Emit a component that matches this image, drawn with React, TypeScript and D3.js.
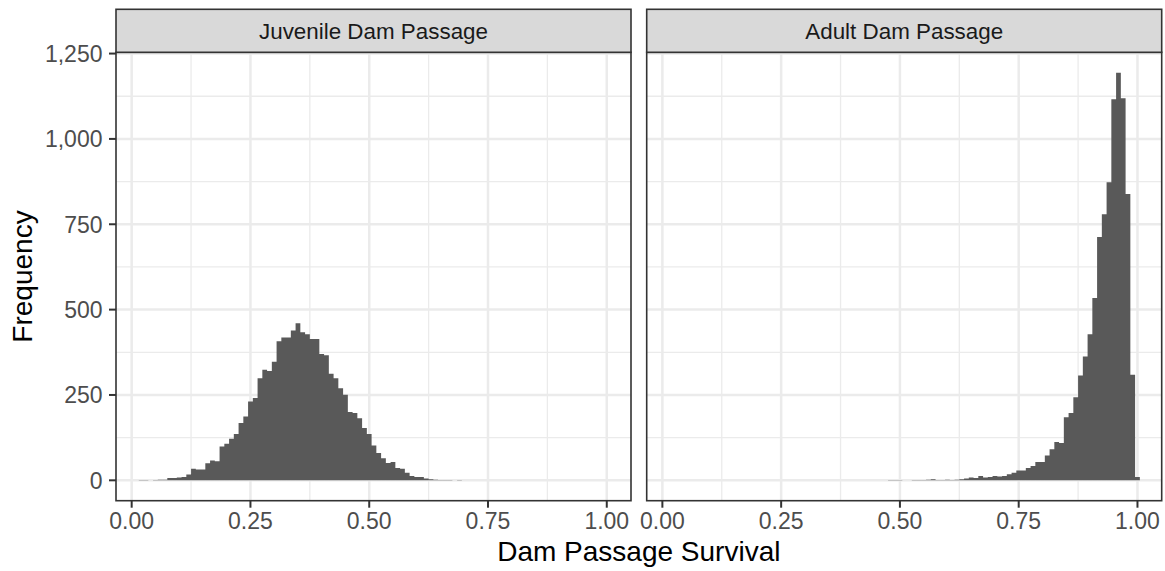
import React from "react";
import * as d3 from "d3";

const panels = ["Juvenile Dam Passage", "Adult Dam Passage"];
const binWidth = 0.01;
const binCenters = d3.range(0, 101).map((k) => +(k * binWidth).toFixed(2));

// counts per bin (bin centers 0.00 .. 1.00)
const juvenileCounts = [
  0, 0, 1, 1, 0, 1, 2, 2, 7, 7,
  8, 10, 17, 34, 32, 32, 50, 58, 56, 99,
  107, 122, 136, 168, 187, 231, 241, 299, 324, 320,
  347, 407, 418, 418, 439, 460, 434, 428, 414, 414,
  370, 366, 312, 299, 270, 251, 200, 197, 182, 153,
  136, 102, 80, 65, 51, 54, 36, 34, 22, 13,
  10, 10, 5, 3, 2, 1, 1, 1, 0, 1,
  0, 0, 0, 0, 0, 0, 0, 0, 0, 0,
  0, 0, 0, 0, 0, 0, 0, 0, 0, 0,
  0, 0, 0, 0, 0, 0, 0, 0, 0, 0,
  0,
];
const adultCounts = [
  0, 0, 0, 0, 0, 0, 0, 0, 0, 0,
  0, 0, 0, 0, 0, 0, 0, 0, 0, 0,
  0, 0, 0, 0, 0, 0, 0, 0, 0, 0,
  0, 0, 0, 0, 0, 0, 0, 0, 0, 0,
  0, 0, 0, 0, 0, 0, 0, 0, 1, 1,
  1, 0, 0, 1, 1, 1, 2, 3, 1, 1,
  2, 1, 2, 3, 5, 8, 7, 13, 8, 10,
  13, 11, 13, 18, 22, 29, 29, 36, 42, 54,
  54, 73, 91, 112, 109, 185, 197, 243, 307, 363,
  428, 534, 713, 779, 873, 1116, 1194, 1119, 839, 309,
  10,
];
const seriesCounts = [juvenileCounts, adultCounts];

const xTicks = [0, 0.25, 0.5, 0.75, 1];
const xMinor = [0.125, 0.375, 0.625, 0.875];
const yTicks = [0, 250, 500, 750, 1000, 1250];
const yMinor = [125, 375, 625, 875, 1125];

const xTitle = "Dam Passage Survival";
const yTitle = "Frequency";

const W = 1165;
const H = 571;
const FONT = "'Liberation Sans', Arial, Helvetica, sans-serif";

export default function App() {
  const panelTop = 52.3;
  const panelBottom = 500.7;
  const stripTop = 9.3;
  const panelLefts = [116, 646.7];
  const panelW = 515;
  const xDomain: [number, number] = [-0.033, 1.051];
  const maxCount = d3.max(seriesCounts.flat()) as number;
  const y = d3
    .scaleLinear()
    .domain([-0.05 * maxCount, maxCount * 1.05])
    .range([panelBottom, panelTop]);
  const fmt = d3.format(",");
  const xFmt = d3.format(".2f");
  const tickLen = 7;
  const tickFont = 23;

  return (
    <div style={{ position: "absolute", left: 0, top: 0 }}>
      <svg width={W} height={H} style={{ display: "block", background: "#fff" }} fontFamily={FONT}>
        <rect x={0} y={0} width={W} height={H} fill="#fff" />
        {panels.map((name, pi) => {
          const x0 = panelLefts[pi];
          const x = d3.scaleLinear().domain(xDomain).range([x0, x0 + panelW]);
          const counts = seriesCounts[pi];
          const p = d3.path();
          binCenters.forEach((c, i) => {
            if (counts[i] > 0) {
              const xa = x(c - binWidth / 2);
              const xb = x(c + binWidth / 2);
              p.rect(xa, y(counts[i]), xb - xa, y(0) - y(counts[i]));
            }
          });
          return (
            <g key={name}>
              <rect x={x0} y={panelTop} width={panelW} height={panelBottom - panelTop} fill="#fff" />
              {yMinor.map((v) => (
                <line key={"ym" + v} x1={x0} x2={x0 + panelW} y1={y(v)} y2={y(v)} stroke="#EBEBEB" strokeWidth={1.3} />
              ))}
              {xMinor.map((v) => (
                <line key={"xm" + v} x1={x(v)} x2={x(v)} y1={panelTop} y2={panelBottom} stroke="#EBEBEB" strokeWidth={1.3} />
              ))}
              {yTicks.map((v) => (
                <line key={"yM" + v} x1={x0} x2={x0 + panelW} y1={y(v)} y2={y(v)} stroke="#EBEBEB" strokeWidth={2.5} />
              ))}
              {xTicks.map((v) => (
                <line key={"xM" + v} x1={x(v)} x2={x(v)} y1={panelTop} y2={panelBottom} stroke="#EBEBEB" strokeWidth={2.5} />
              ))}
              <path d={p.toString()} fill="#595959" />
              <rect x={x0} y={panelTop} width={panelW} height={panelBottom - panelTop} fill="none" stroke="#333333" strokeWidth={1.6} />
              <rect x={x0} y={stripTop} width={panelW} height={panelTop - stripTop} fill="#D9D9D9" stroke="#333333" strokeWidth={1.6} />
              <text x={x0 + panelW / 2} y={(stripTop + panelTop) / 2} dy="0.35em" textAnchor="middle" fontSize={22.4} fill="#1A1A1A">
                {name}
              </text>
              {xTicks.map((v) => (
                <g key={"xt" + v}>
                  <line x1={x(v)} x2={x(v)} y1={panelBottom} y2={panelBottom + tickLen} stroke="#333333" strokeWidth={2} />
                  <text x={x(v)} y={panelBottom + tickLen + 4} dy="0.75em" textAnchor="middle" fontSize={tickFont} fill="#4D4D4D">
                    {xFmt(v)}
                  </text>
                </g>
              ))}
              {pi === 0 &&
                yTicks.map((v) => (
                  <g key={"yt" + v}>
                    <line x1={x0 - tickLen} x2={x0} y1={y(v)} y2={y(v)} stroke="#333333" strokeWidth={2} />
                    <text x={x0 - tickLen - 6.5} y={y(v)} dy="0.36em" textAnchor="end" fontSize={tickFont} fill="#4D4D4D">
                      {fmt(v)}
                    </text>
                  </g>
                ))}
            </g>
          );
        })}
        <text x={(panelLefts[0] + panelLefts[1] + panelW) / 2} y={561} textAnchor="middle" fontSize={28} fill="#000">
          {xTitle}
        </text>
        <text
          transform={`translate(32, ${(panelTop + panelBottom) / 2}) rotate(-90)`}
          textAnchor="middle"
          fontSize={28}
          fill="#000"
        >
          {yTitle}
        </text>
      </svg>
    </div>
  );
}
